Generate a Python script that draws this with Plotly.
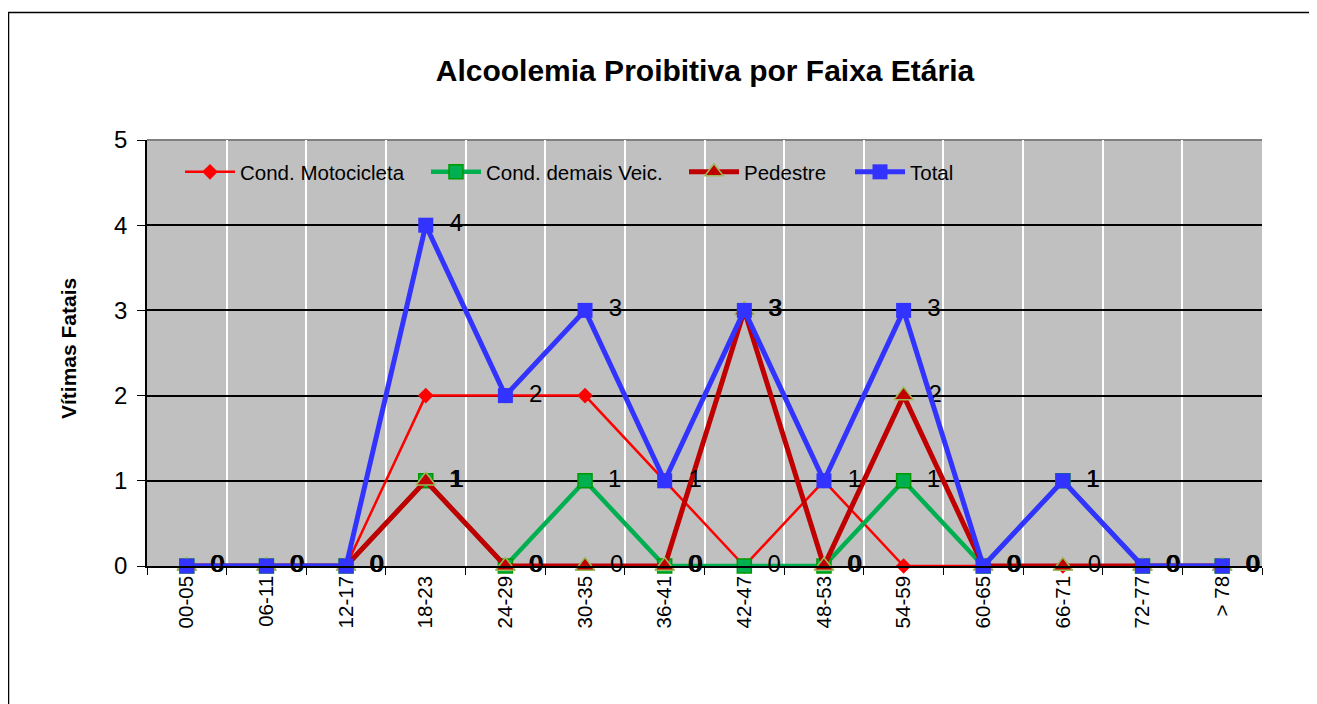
import plotly.graph_objects as go

categories = ["00-05", "06-11", "12-17", "18-23", "24-29", "30-35", "36-41",
              "42-47", "48-53", "54-59", "60-65", "66-71", "72-77", "> 78"]
moto = [0, 0, 0, 2, 2, 2, 1, 0, 1, 0, 0, 0, 0, 0]
demais = [0, 0, 0, 1, 0, 1, 0, 0, 0, 1, 0, 1, 0, 0]
pedestre = [0, 0, 0, 1, 0, 0, 0, 3, 0, 2, 0, 0, 0, 0]
total = [0, 0, 0, 4, 2, 3, 1, 3, 1, 3, 0, 1, 0, 0]

FONT = "Arial, Liberation Sans, sans-serif"
LABEL_FONT = dict(family=FONT, size=24, color="black")
fig = go.Figure()

fig.add_trace(go.Scatter(
    x=categories, y=moto, name="Cond. Motocicleta", mode="lines+markers",
    line=dict(color="#FF0000", width=2.5),
    marker=dict(symbol="diamond", size=12, color="#FF0000"),
    cliponaxis=False, legend="legend"))

fig.add_trace(go.Scatter(
    x=categories, y=demais, name="Cond. demais Veic.", mode="lines+markers+text",
    line=dict(color="#00B050", width=4.5),
    marker=dict(symbol="square", size=14, color="#00B050", line=dict(color="#009900", width=1.5)),
    text=demais, texttemplate="  %{text}", textposition="middle right",
    textfont=LABEL_FONT, cliponaxis=False, legend="legend2"))

fig.add_trace(go.Scatter(
    x=categories, y=pedestre, name="Pedestre", mode="lines+markers+text",
    line=dict(color="#C00000", width=5),
    marker=dict(symbol="triangle-up", size=17, color="#C00000", line=dict(color="#9BBB59", width=1.5)),
    text=pedestre, texttemplate="  %{text}", textposition="middle right",
    textfont=LABEL_FONT, cliponaxis=False, legend="legend3"))

fig.add_trace(go.Scatter(
    x=categories, y=total, name="Total", mode="lines+markers+text",
    line=dict(color="#3333FF", width=5),
    marker=dict(symbol="square", size=15, color="#3333FF"),
    text=total, texttemplate="  %{text}", textposition="middle right",
    textfont=LABEL_FONT, cliponaxis=False, legend="legend4"))

# screen coordinates of the plot area (page has an 8px body margin)
OFF = 8
L, R, T, B = 147, 1262, 140, 566
W, H = 1317 - OFF, 704 - OFF
pw, ph = R - L, B - T

def px_x(p):
    return (p - L) / pw

def px_y(p):
    return (B - p) / ph

def legend_at(line_start):
    return dict(orientation="h", x=px_x(line_start - 6), xanchor="left",
                y=px_y(172), yanchor="middle",
                bgcolor="rgba(0,0,0,0)", font=dict(size=20.5, family=FONT, color="black"),
                itemwidth=50)

fig.update_layout(
    width=W, height=H,
    margin=dict(l=L - OFF, r=W - (R - OFF), t=T - OFF, b=H - (B - OFF), pad=0),
    paper_bgcolor="white", plot_bgcolor="#C0C0C0",
    font=dict(family=FONT, color="black"),
    title=dict(text="<b>Alcoolemia Proibitiva por Faixa Etária</b>",
               font=dict(size=30, family=FONT, color="black"),
               x=px_x(705), xanchor="center", xref="paper",
               y=1 - (70 - OFF) / H, yanchor="middle", yref="container"),
    showlegend=True,
    legend=legend_at(186),
    legend2=legend_at(432),
    legend3=legend_at(690),
    legend4=legend_at(856),
    xaxis=dict(type="category", range=[-0.5, 13.5], tickson="boundaries",
               showgrid=True, gridcolor="white", gridwidth=1.5,
               ticks="outside", ticklen=7, tickcolor="black", tickwidth=1,
               showline=True, linecolor="black", linewidth=1.5,
               tickangle=-90, tickfont=dict(size=20.5, family=FONT),
               fixedrange=True),
    yaxis=dict(range=[0, 5], dtick=1, showgrid=True, gridcolor="black", gridwidth=1.5,
               zeroline=False, ticks="outside", ticklen=8, tickcolor="black",
               showline=True, linecolor="black", linewidth=1.5,
               tickfont=dict(size=24, family=FONT), ticklabelstandoff=5,
               fixedrange=True),
)

fig.add_annotation(text="<b>Vítimas Fatais</b>", textangle=-90,
                   x=px_x(68), y=px_y(349), xref="paper", yref="paper",
                   xanchor="center", yanchor="middle",
                   showarrow=False, font=dict(size=21, family=FONT, color="black"))

# gray top border of plot area
fig.add_shape(type="line", xref="paper", yref="paper", x0=0, x1=1, y0=1, y1=1,
              line=dict(color="#808080", width=2), layer="between")

# outer chart border
fig.add_shape(type="rect", xref="paper", yref="paper",
              x0=px_x(OFF + 0.5), x1=px_x(1310), y0=px_y(720), y1=px_y(12.5),
              line=dict(color="black", width=1.5), fillcolor="rgba(0,0,0,0)",
              layer="below")

fig.write_html("out.html")
